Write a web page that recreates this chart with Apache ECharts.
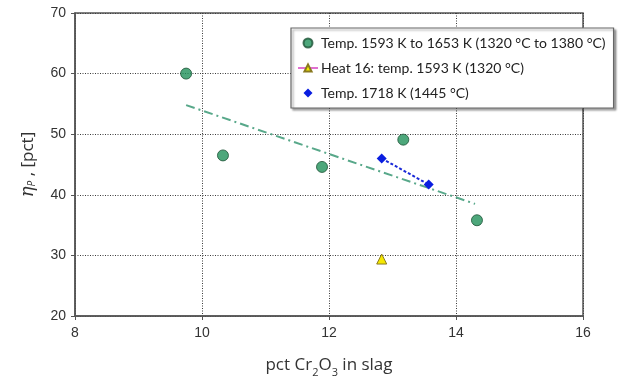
<!DOCTYPE html>
<html>
<head>
<meta charset="utf-8">
<script src="https://cdn.jsdelivr.net/npm/echarts@6/dist/echarts.min.js"></script>
<style>html,body{margin:0;padding:0;background:#fff;}#c{width:618px;height:383px;}</style>
</head>
<body>
<div id="c"></div>
<script>
// Data
const seriesNames = [
  'Temp. 1593 K to 1653 K (1320 °C to 1380 °C)',
  'Heat 16: temp. 1593 K (1320 °C)',
  'Temp. 1718 K (1445 °C)'
];
const greenX = [9.75, 10.33, 11.89, 13.17, 14.33];
const greenY = [60.0, 46.5, 44.6, 49.1, 35.8];
const heatX = [12.83];
const heatY = [29.4];
const blueX = [12.83, 13.57];
const blueY = [46.0, 41.7];
const trendX = [9.75, 14.3];
const trendY = [54.8, 38.5];
const xTicks = [8, 10, 12, 14, 16];
const yTicks = [20, 30, 40, 50, 60, 70];

const zip = (a, b) => a.map((v, i) => [v, b[i]]);
const diamondPath = 'path://M0,-1L1,0L0,1L-1,0Z';

const chart = echarts.init(document.getElementById('c'), null, {renderer: 'canvas'});
const gridColor = '#3a3a3a';
chart.setOption({
  animation: false,
  backgroundColor: '#fff',
  grid: {left: 75, right: 35, top: 13, bottom: 57, show: true, borderColor: '#555', borderWidth: 1.5, backgroundColor: 'transparent'},
  xAxis: {
    type: 'value', min: xTicks[0], max: xTicks[xTicks.length - 1], interval: 2,
    axisLine: {show: true, lineStyle: {color: '#555', width: 1.5}},
    axisTick: {show: true, inside: false, length: 4, lineStyle: {color: '#555'}},
    axisLabel: {color: '#333', fontFamily: 'Liberation Sans', fontSize: 14, margin: 10},
    splitLine: {show: true, lineStyle: {color: gridColor, type: [1, 1.5], width: 1}},
    name: '{a|pct Cr}{s|2}{a|O}{s|3}{a| in slag}',
    nameLocation: 'middle', nameGap: 34,
    nameTextStyle: {
      rich: {
        a: {fontFamily: 'Open Sans', fontSize: 17, color: '#333', lineHeight: 24, verticalAlign: 'bottom'},
        s: {fontFamily: 'Open Sans', fontSize: 11, color: '#333', lineHeight: 24, verticalAlign: 'bottom', padding: [0, 0, -4, 0]}
      }
    }
  },
  yAxis: {
    type: 'value', min: yTicks[0], max: yTicks[yTicks.length - 1], interval: 10,
    axisLine: {show: true, lineStyle: {color: '#555', width: 1.5}},
    axisTick: {show: true, length: 4, lineStyle: {color: '#555'}},
    axisLabel: {color: '#333', fontFamily: 'Liberation Sans', fontSize: 14, margin: 9},
    splitLine: {show: true, lineStyle: {color: gridColor, type: [1, 1.5], width: 1}},
    name: '{e|η}{p|P}{a| , [pct]}',
    nameLocation: 'middle', nameGap: 38, nameRotate: 90,
    nameTextStyle: {
      rich: {
        e: {fontFamily: 'DejaVu Serif', fontStyle: 'italic', fontSize: 18, color: '#333', lineHeight: 24, verticalAlign: 'bottom'},
        p: {fontFamily: 'Open Sans', fontStyle: 'italic', fontSize: 10, color: '#333', lineHeight: 24, verticalAlign: 'bottom'},
        a: {fontFamily: 'Open Sans', fontSize: 17, color: '#333', lineHeight: 24, verticalAlign: 'bottom'}
      }
    }
  },
  legend: {
    orient: 'vertical', left: 291, top: 28, width: 320,
    padding: [8, 8, 8, 6], itemGap: 11, itemWidth: 20, itemHeight: 9,
    symbolKeepAspect: true,
    backgroundColor: '#fff', borderColor: '#666', borderWidth: 1.2,
    shadowColor: 'rgba(0,0,0,0.35)', shadowBlur: 2, shadowOffsetX: 2, shadowOffsetY: 2,
    textStyle: {fontFamily: 'Lato', fontSize: 14, color: '#222', padding: [0, 0, 0, -2]},
    data: [
      {name: seriesNames[0], icon: 'circle'},
      {name: seriesNames[1]},
      {name: seriesNames[2], icon: diamondPath}
    ]
  },
  series: [
    {
      name: 'trend', type: 'line', data: zip(trendX, trendY), symbol: 'none', silent: true,
      lineStyle: {color: '#58a88a', width: 2, type: [9, 4, 2, 4]}, z: 1
    },
    {
      name: seriesNames[2], type: 'line', data: zip(blueX, blueY), symbol: 'diamond', symbolSize: 10,
      itemStyle: {color: '#0a1ee0'}, lineStyle: {color: '#1a2ad8', width: 2, type: [3, 2]}, z: 3
    },
    {
      name: seriesNames[0], type: 'scatter', data: zip(greenX, greenY), symbol: 'circle', symbolSize: 11,
      itemStyle: {color: '#21915a', borderColor: '#1d5236', borderWidth: 1}, z: 4
    },
    {
      name: seriesNames[1], type: 'line', data: zip(heatX, heatY), symbol: 'triangle', symbolSize: 10,
      itemStyle: {color: '#f5e800', borderColor: '#8a7a20', borderWidth: 1},
      lineStyle: {color: '#e070d0', width: 1.5}, z: 4
    }
  ]
});
</script>
</body>
</html>
